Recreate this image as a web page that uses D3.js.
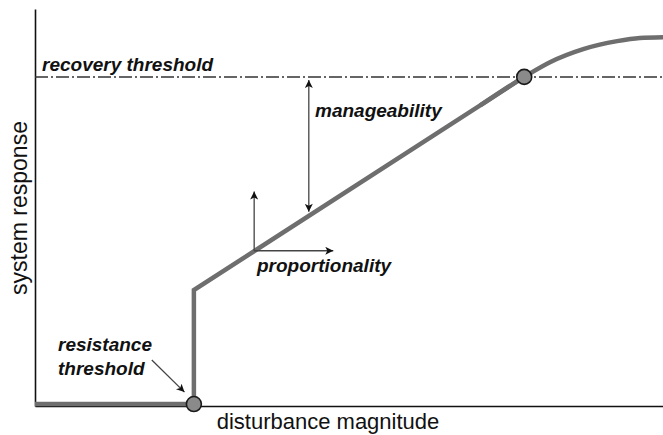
<!DOCTYPE html>
<html lang="en">
<head>
<meta charset="utf-8">
<title>System response vs disturbance magnitude</title>
<script src="https://cdn.jsdelivr.net/npm/d3@7"></script>
<style>
  body { margin: 0; background: #fff; }
  .axis-title { font-family: "Liberation Sans", Arial, sans-serif; font-size: 22px; fill: #111; }
  .note { font-family: "Liberation Sans", Arial, sans-serif; font-size: 19px; font-style: italic; font-weight: bold; fill: #111; }
  .axis path { stroke: #111; stroke-width: 1.6px; }
</style>
</head>
<body>
<div id="chart"></div>
<script>
// response curve (abstract units 0-100), step + linear part
var stepX = [0, 25.3, 25.3, 77.9];
var stepY = [0.5, 0.5, 29.2, 82.9];
// saturating tail
var tailX = [70.9, 77.9, 82.0, 87.3, 92.7, 96.3, 100];
var tailY = [75.7, 82.9, 86.6, 89.9, 91.9, 92.7, 92.9];

var recoveryLevel = 82.9;
var thresholdX = [25.3, 77.9];
var thresholdY = [0.5, 82.9];

// annotation arrows [x1, y1, x2, y2]
var manageArrow = [43.6, 82.1, 43.6, 48.9];
var propOrigin = [34.9, 39.1];
var propUp = 54.0;
var propRight = 47.5;
var resistArrow = [18.6, 11.6, 23.8, 3.5];

var labels = ["recovery threshold", "manageability", "proportionality", "resistance", "threshold"];

var W = 663, H = 435;

var svg = d3.select("#chart").append("svg")
    .attr("width", W).attr("height", H);

var x = d3.scaleLinear().domain([0, 100]).range([35, 663]);
var y = d3.scaleLinear().domain([0, 100]).range([406, 9]);

var defs = svg.append("defs");
defs.append("marker")
    .attr("id", "head")
    .attr("viewBox", "0 0 10 10")
    .attr("refX", 10).attr("refY", 5)
    .attr("markerWidth", 10).attr("markerHeight", 8)
    .attr("markerUnits", "userSpaceOnUse")
    .attr("orient", "auto-start-reverse")
  .append("path")
    .attr("d", "M0,0 L10,5 L0,10 L2.5,5 Z")
    .attr("fill", "#111");

// axes without ticks
svg.append("g").attr("class", "axis")
   .attr("transform", "translate(0," + y(0) + ")")
   .call(d3.axisBottom(x).ticks(0).tickSizeOuter(0));
svg.append("g").attr("class", "axis")
   .attr("transform", "translate(" + x(0) + ",0)")
   .call(d3.axisLeft(y).ticks(0).tickSizeOuter(0));

// recovery threshold
svg.append("line")
   .attr("x1", x(0)).attr("x2", x(100))
   .attr("y1", y(recoveryLevel)).attr("y2", y(recoveryLevel))
   .attr("stroke", "#333").attr("stroke-width", 1.5)
   .attr("stroke-dasharray", "13,3,2,3");

// response curve
var stepLine = d3.line().x(function(d) { return x(d[0]); }).y(function(d) { return y(d[1]); });
var tailLine = d3.line().x(function(d) { return x(d[0]); }).y(function(d) { return y(d[1]); })
    .curve(d3.curveMonotoneX);

svg.append("path")
   .attr("d", stepLine(d3.zip(stepX, stepY)))
   .attr("fill", "none").attr("stroke", "#6e6e6e").attr("stroke-width", 4.5)
   .attr("stroke-linejoin", "miter");
svg.append("path")
   .attr("d", tailLine(d3.zip(tailX, tailY)))
   .attr("fill", "none").attr("stroke", "#6e6e6e").attr("stroke-width", 4.5);

// arrows
function arrow(x1, y1, x2, y2, both) {
  var l = svg.append("line")
     .attr("x1", x(x1)).attr("y1", y(y1))
     .attr("x2", x(x2)).attr("y2", y(y2))
     .attr("stroke", "#444").attr("stroke-width", 1.3)
     .attr("marker-end", "url(#head)");
  if (both) l.attr("marker-start", "url(#head)");
}
arrow(manageArrow[0], manageArrow[1], manageArrow[2], manageArrow[3], true);
arrow(propOrigin[0], propOrigin[1], propOrigin[0], propUp, false);
arrow(propOrigin[0], propOrigin[1], propRight, propOrigin[1], false);
arrow(resistArrow[0], resistArrow[1], resistArrow[2], resistArrow[3], false);

// threshold points
svg.selectAll(".pt")
   .data(d3.zip(thresholdX, thresholdY))
   .enter().append("circle")
   .attr("class", "pt")
   .attr("cx", function(d) { return x(d[0]); })
   .attr("cy", function(d) { return y(d[1]); })
   .attr("r", 7.5)
   .attr("fill", "#8a8a8a").attr("stroke", "#1a1a1a").attr("stroke-width", 1.6);

// labels
svg.append("text").attr("class", "note").attr("x", 42).attr("y", 71).text(labels[0]);
svg.append("text").attr("class", "note").attr("x", 315).attr("y", 117).text(labels[1]);
svg.append("text").attr("class", "note").attr("x", 257).attr("y", 272).text(labels[2]);
svg.append("text").attr("class", "note").attr("x", 58).attr("y", 351).text(labels[3]);
svg.append("text").attr("class", "note").attr("x", 58).attr("y", 375).text(labels[4]);

svg.append("text").attr("class", "axis-title")
   .attr("x", 328).attr("y", 429)
   .attr("text-anchor", "middle")
   .text("disturbance magnitude");
svg.append("text").attr("class", "axis-title")
   .attr("transform", "translate(27,208) rotate(-90)")
   .attr("text-anchor", "middle")
   .style("font-size", "23px")
   .text("system response");
</script>
</body>
</html>
